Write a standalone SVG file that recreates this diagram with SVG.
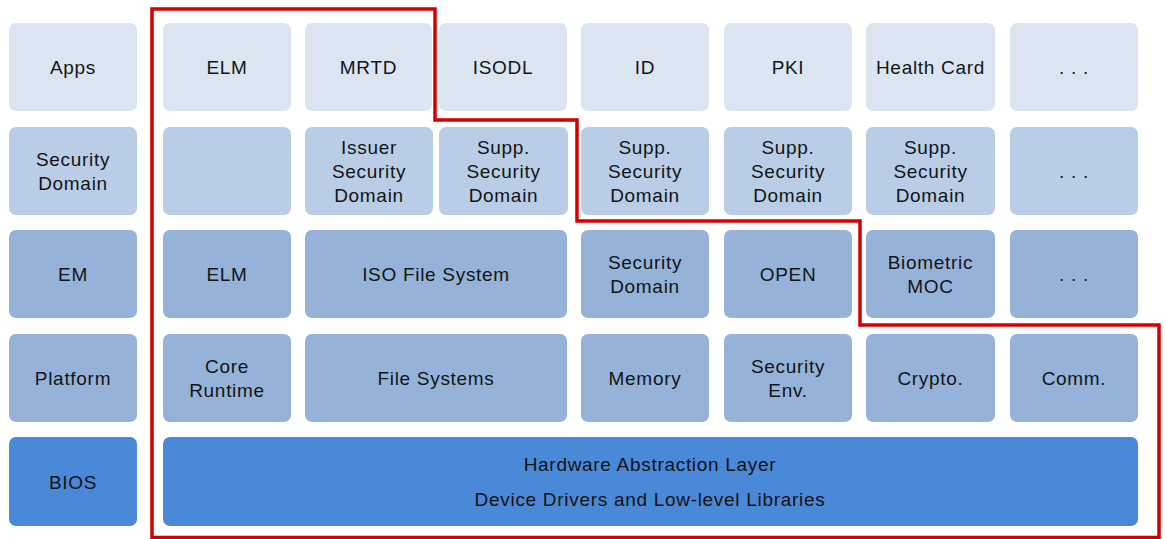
<svg xmlns="http://www.w3.org/2000/svg" width="1165" height="539" viewBox="0 0 1165 539">
<style>
rect{rx:7;ry:7}
.r0{fill:#dbe5f2}
.r1{fill:#b9cde6}
.r2{fill:#95b3d8}
.r4{fill:#4a88d8}
text{font-family:"Liberation Sans",Arial,sans-serif;font-size:19px;letter-spacing:0.7px;fill:#141414;text-anchor:middle;dominant-baseline:central}
.red{fill:none;stroke:#d40000;stroke-width:3.5}
</style>
<rect width="1165" height="539" fill="#ffffff" style="rx:0"/>
<g id="row0">
<g id="apps"><rect class="r0" x="9" y="23" width="128" height="88"/><text x="73" y="67">Apps</text></g>
<g id="elm-app"><rect class="r0" x="163" y="23" width="128" height="88"/><text x="227" y="67">ELM</text></g>
<g id="mrtd"><rect class="r0" x="305" y="23" width="127" height="88"/><text x="368.5" y="67">MRTD</text></g>
<g id="isodl"><rect class="r0" x="439" y="23" width="128" height="88"/><text x="503" y="67">ISODL</text></g>
<g id="id"><rect class="r0" x="581" y="23" width="128" height="88"/><text x="645" y="67">ID</text></g>
<g id="pki"><rect class="r0" x="724" y="23" width="128" height="88"/><text x="788" y="67">PKI</text></g>
<g id="health"><rect class="r0" x="866" y="23" width="129" height="88"/><text x="930.5" y="67">Health Card</text></g>
<g id="apps-more"><rect class="r0" x="1010" y="23" width="128" height="88"/><text x="1074" y="67">. . .</text></g>
</g>
<g id="row1">
<g id="sd-label"><rect class="r1" x="9" y="127" width="128" height="88"/><text x="73" y="159">Security</text><text x="73" y="183">Domain</text></g>
<g id="sd-empty"><rect class="r1" x="163" y="127" width="128" height="88"/></g>
<g id="issuer-sd"><rect class="r1" x="305" y="127" width="128" height="88"/><text x="369" y="147">Issuer</text><text x="369" y="171">Security</text><text x="369" y="195">Domain</text></g>
<g id="supp-sd1"><rect class="r1" x="439" y="127" width="129" height="88"/><text x="503.5" y="147">Supp.</text><text x="503.5" y="171">Security</text><text x="503.5" y="195">Domain</text></g>
<g id="supp-sd2"><rect class="r1" x="581" y="127" width="128" height="88"/><text x="645" y="147">Supp.</text><text x="645" y="171">Security</text><text x="645" y="195">Domain</text></g>
<g id="supp-sd3"><rect class="r1" x="724" y="127" width="128" height="88"/><text x="788" y="147">Supp.</text><text x="788" y="171">Security</text><text x="788" y="195">Domain</text></g>
<g id="supp-sd4"><rect class="r1" x="866" y="127" width="129" height="88"/><text x="930.5" y="147">Supp.</text><text x="930.5" y="171">Security</text><text x="930.5" y="195">Domain</text></g>
<g id="sd-more"><rect class="r1" x="1010" y="127" width="128" height="88"/><text x="1074" y="171">. . .</text></g>
</g>
<g id="row2">
<g id="em"><rect class="r2" x="9" y="230" width="128" height="88"/><text x="73" y="274">EM</text></g>
<g id="elm-em"><rect class="r2" x="163" y="230" width="128" height="88"/><text x="227" y="274">ELM</text></g>
<g id="isofs"><rect class="r2" x="305" y="230" width="262" height="88"/><text x="436" y="274">ISO File System</text></g>
<g id="sd-em"><rect class="r2" x="581" y="230" width="128" height="88"/><text x="645" y="262">Security</text><text x="645" y="286">Domain</text></g>
<g id="open"><rect class="r2" x="724" y="230" width="128" height="88"/><text x="788" y="274">OPEN</text></g>
<g id="bio"><rect class="r2" x="866" y="230" width="129" height="88"/><text x="930.5" y="262">Biometric</text><text x="930.5" y="286">MOC</text></g>
<g id="em-more"><rect class="r2" x="1010" y="230" width="128" height="88"/><text x="1074" y="274">. . .</text></g>
</g>
<g id="row3">
<g id="platform"><rect class="r2" x="9" y="334" width="128" height="88"/><text x="73" y="378">Platform</text></g>
<g id="core"><rect class="r2" x="163" y="334" width="128" height="88"/><text x="227" y="366">Core</text><text x="227" y="390">Runtime</text></g>
<g id="fs"><rect class="r2" x="305" y="334" width="262" height="88"/><text x="436" y="378">File Systems</text></g>
<g id="memory"><rect class="r2" x="581" y="334" width="128" height="88"/><text x="645" y="378">Memory</text></g>
<g id="secenv"><rect class="r2" x="724" y="334" width="128" height="88"/><text x="788" y="366">Security</text><text x="788" y="390">Env.</text></g>
<g id="crypto"><rect class="r2" x="866" y="334" width="129" height="88"/><text x="930.5" y="378">Crypto.</text></g>
<g id="comm"><rect class="r2" x="1010" y="334" width="128" height="88"/><text x="1074" y="378">Comm.</text></g>
</g>
<g id="row4">
<g id="bios"><rect class="r4" x="9" y="437" width="128" height="89"/><text x="73" y="482">BIOS</text></g>
<g id="hal"><rect class="r4" x="163" y="437" width="975" height="89"/><text x="650" y="464">Hardware Abstraction Layer</text><text x="650" y="499">Device Drivers and Low-level Libraries</text></g>
</g>
<g id="connectors">
<path class="red" d="M152,9 H435 V120 H577 V221 H860 V325 H1159 V537.5 H152 Z"/>
</g>
</svg>
